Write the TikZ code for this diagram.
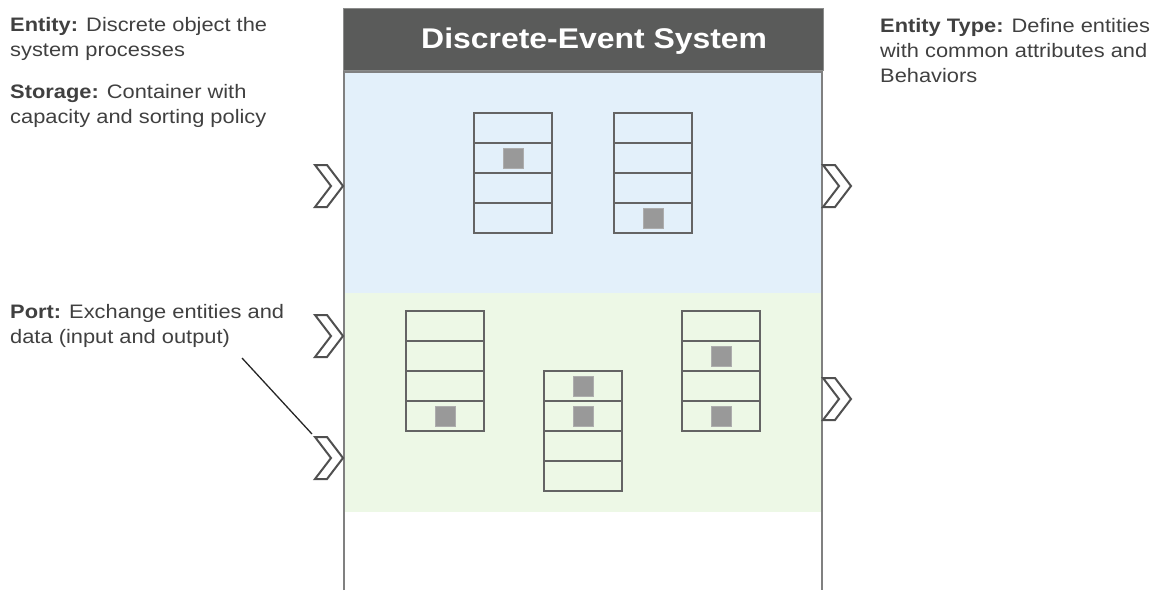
\documentclass[tikz,border=0pt]{standalone}
\usepackage{fontspec}
\setmainfont{Liberation Sans}[FakeStretch=1.12]
\usepackage{tikz}
\usetikzlibrary{calc}

\definecolor{barGray}{RGB}{90,91,90}
\definecolor{frameGray}{RGB}{128,128,128}
\definecolor{lineGray}{RGB}{100,100,100}
\definecolor{portGray}{RGB}{80,80,80}
\definecolor{entGray}{RGB}{153,153,153}
\definecolor{txtGray}{RGB}{64,64,64}
\definecolor{bgBlue}{RGB}{227,240,250}
\definecolor{bgGreen}{RGB}{237,248,230}

\tikzset{
    label/.style={anchor=base west, align=left, inner sep=0pt,
        text=txtGray, font=\fontsize{19.5}{25}\selectfont},
    entity/.style={fill=entGray, draw=entGray!80, line width=0.6pt,
        minimum size=20pt, inner sep=0pt},
    cell/.style={draw=lineGray, line width=2pt},
    port/.style={draw=portGray, fill=white, line width=2pt, line join=miter}
}

% storage with four slots: name, left x, top y
\newcommand{\storage}[3]{
    \foreach \k in {0,...,3}
        \draw[cell] (#2,#3+30*\k) rectangle (#2+78,#3+30*\k+30);
    \coordinate (#1) at (#2+39,#3+60);
}

% port chevron: name, tip x, tip y
\newcommand{\port}[3]{
    \draw[port] (#2,#3) ++(-28,-21) -- ++(12,0) -- ++(16,21)
        -- ++(-16,21) -- ++(-12,0) -- ++(16,-21) -- cycle;
    \coordinate (#1) at (#2-29,#3-22);
}

\begin{document}
\begin{tikzpicture}[x=1pt,y=-1pt]

\useasboundingbox (0,0) rectangle (1154,590);

% Title bar
\draw[fill=barGray, draw=barGray!70] (343,8) rectangle (823,70);
\node[anchor=base west, inner sep=0pt, text=white,
    font=\fontsize{28.5}{32}\selectfont\bfseries] (title) at (421,48)
    {Discrete-Event System};

% Regions
\fill[bgBlue] (344,72) rectangle (822,293);
\fill[bgGreen] (344,293) rectangle (822,512);

% Frame
\draw[frameGray, line width=2pt] (344,590) -- (344,72) -- (822,72) -- (822,590);

% Storages, upper region
\storage{s1}{474}{113}
\storage{s2}{614}{113}

% Storages, lower region
\storage{s3}{406}{311}
\storage{s4}{544}{371}
\storage{s5}{682}{311}

% Entities
\node[entity] (e1) at (513,158) {};
\node[entity] (e2) at (653,218) {};
\node[entity] (e3) at (445,416) {};
\node[entity] (e4) at (583,386) {};
\node[entity] (e5) at (583,416) {};
\node[entity] (e6) at (721,356) {};
\node[entity] (e7) at (721,416) {};

% Ports
\port{in1}{343}{186}
\port{in2}{343}{336}
\port{in3}{343}{458}
\port{out1}{851}{186}
\port{out2}{851}{399}

% Labels (placed at the baseline of the last line)
\node[label] (entity) at (10,56)
    {\textbf{Entity:} Discrete object the\\system processes};
\node[label] (storage) at (10,123)
    {\textbf{Storage:} Container with\\capacity and sorting policy};
\node[label] (portlbl) at (10,343)
    {\textbf{Port:} Exchange entities and\\data (input and output)};
\node[label] (etype) at (880,82)
    {\textbf{Entity Type:} Define entities\\with common attributes and\\Behaviors};

% Leader to port
\coordinate (lead) at (242,358);
\draw[line width=1.3pt, black!85] (lead) -- ($(in3)+(-2,-2)$);

\end{tikzpicture}
\end{document}
